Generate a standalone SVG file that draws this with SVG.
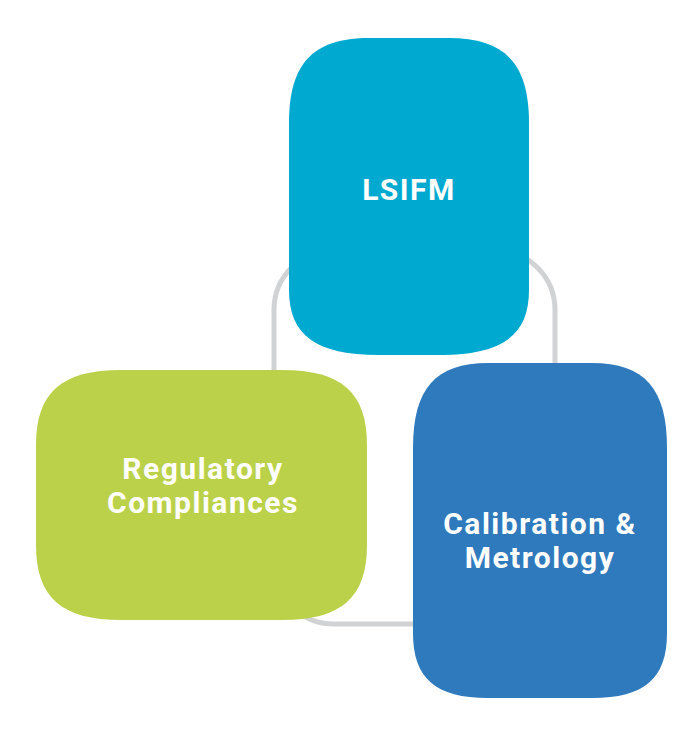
<svg xmlns="http://www.w3.org/2000/svg" width="700" height="736" viewBox="0 0 700 736">
<style>
.lbl{font-family:Roboto,"Liberation Sans",Arial,sans-serif;font-weight:700;font-size:30px;fill:#ffffff;text-anchor:middle;letter-spacing:1.5px}
.ring{fill:none;stroke:#d1d2d4;stroke-width:5}
</style>
<rect width="700" height="736" fill="#ffffff"/>
<g id="connectors">
<rect class="ring" x="274" y="250" width="281" height="374" rx="60" ry="60"/>
</g>
<g id="node-lsifm">
<path fill="#00a9cf" d="M289,123 C289,63.5 313,38 369,38 L449,38 C505,38 529,63.5 529,123 L529,290 C529,335.5 502,355 439,355 L379,355 C316,355 289,335.5 289,290 Z"/>
<text class="lbl" x="409" y="200">LSIFM</text>
</g>
<g id="node-regulatory">
<path fill="#bbd14a" d="M36,445 C36,392.5 61.5,370 121,370 L282,370 C341.5,370 367,392.5 367,445 L367,545 C367,597.5 341.5,620 282,620 L121,620 C61.5,620 36,597.5 36,545 Z"/>
<text class="lbl" x="203" y="479">Regulatory</text>
<text class="lbl" x="203" y="513">Compliances</text>
</g>
<g id="node-calibration">
<path fill="#2f79bd" d="M413,448 C413,388.5 435.5,363 488,363 L592,363 C644.5,363 667,388.5 667,448 L667,633 C667,678.5 644.5,698 592,698 L488,698 C435.5,698 413,678.5 413,633 Z"/>
<text class="lbl" x="540" y="534">Calibration &amp;</text>
<text class="lbl" x="540" y="568">Metrology</text>
</g>
</svg>
